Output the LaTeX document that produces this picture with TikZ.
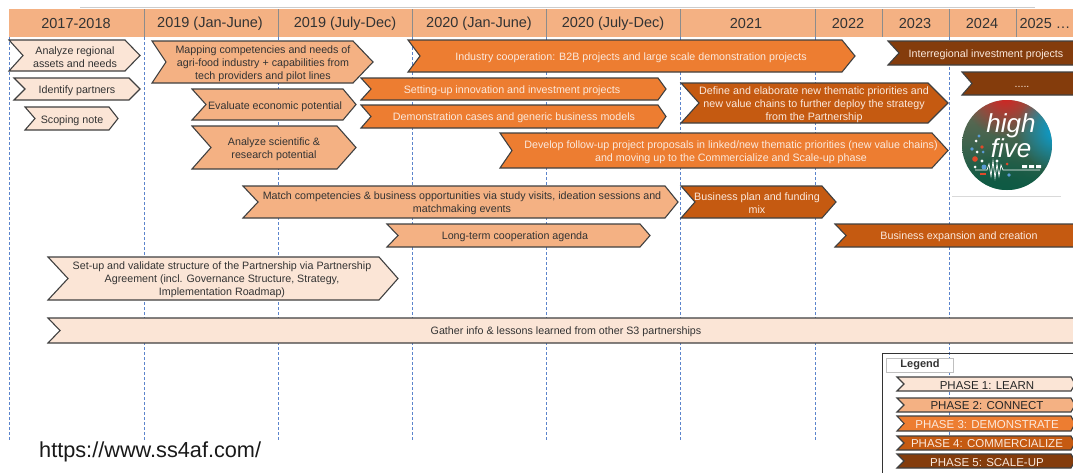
\documentclass[tikz,border=0pt]{standalone}
\usepackage{fontspec}
\setmainfont{Liberation Sans}
\usetikzlibrary{fadings}
\definecolor{ph1}{HTML}{FBE5D6}
\definecolor{ph2}{HTML}{F4B183}
\definecolor{ph3}{HTML}{ED7D31}
\definecolor{ph4}{HTML}{C55A11}
\definecolor{ph5}{HTML}{843C0C}
\definecolor{ink}{HTML}{333333}
\definecolor{lite}{HTML}{FBE9DD}
\definecolor{gridblue}{HTML}{5B84CC}
\definecolor{logotop}{HTML}{6B6B55}
\definecolor{logobot}{HTML}{0E5A44}
\definecolor{logored}{HTML}{D8201F}
\definecolor{logoblue}{HTML}{00A5E0}
\definecolor{dotblue}{HTML}{5B9BD5}
\definecolor{dotred}{HTML}{E04A2A}
\tikzfading[name=blob, inner color=transparent!0, outer color=transparent!100]
\tikzset{
  x=1pt,y=-1pt,
  hdr/.style={font=\fontsize{14.5}{16}\selectfont,text=ink,anchor=center,inner sep=0pt,yshift=-1pt},
  lbl/.style={font=\fontsize{10.7}{13}\selectfont,align=center,anchor=center,inner sep=0pt,yshift=-1.5pt},
  outl/.style={draw=black!75,line width=1.1pt,line join=miter},
  p1/.style={outl,fill=ph1},
  p2/.style={outl,fill=ph2},
  p3/.style={outl,fill=ph3},
  p4/.style={outl,fill=ph4},
  p5/.style={outl,fill=ph5},
  dark/.style={text=ink},
  light/.style={text=lite},
  gridline/.style={gridblue,line width=0.9pt,densely dashed},
  sep/.style={draw=black!45,line width=1pt},
  lg/.style={font=\fontsize{11.5}{13}\selectfont,anchor=center,inner sep=0pt,yshift=-0.8pt},
}
\newcommand{\shp}[7]{\path[#7] (#1,#2) -- (#3,#2) -- (#6,{(#2+#4)/2}) -- (#3,#4) -- (#1,#4) -- ({#1+#5},{(#2+#4)/2}) -- cycle;}
\newcommand{\txt}[5]{\node[lbl,#4] (#1) at (#2,#3) {#5};}
\begin{document}
\begin{tikzpicture}
\useasboundingbox (0,0) rectangle (1073,472);
\fill[white] (0,0) rectangle (1073,472);
\draw[black!20,line width=0.8pt] (80,7) -- (1035,7);
% header
\fill[ph2] (9,9) rectangle (1073,37);
\foreach \xx in {144,278,412,546,680,815,882,949,1016} \draw[sep] (\xx,9) -- (\xx,37);
\foreach \xx/\t/\n in {76/2017-2018/ha,210/2019 (Jan-June)/hb,345/2019 (July-Dec)/hc,479/2020 (Jan-June)/hd,613/2020 (July-Dec)/he,746/2021/hf,848/2022/hg,915/2023/hh,982/2024/hi,1045/2025 …/hj}
  \node[hdr] (\n) at (\xx,23) {\t};
% grid
\foreach \xx in {9,144,278,412,546,680,815,949} \draw[gridline] (\xx,37) -- (\xx,440);

\shp{9}{40}{125}{71}{14}{140}{p1} \txt{a1}{75}{56}{dark}{Analyze regional\\assets and needs}
\shp{14}{78}{129}{100}{11}{140}{p1} \txt{a2}{77}{89.5}{dark}{Identify partners}
\shp{25}{107}{109}{130}{10}{118}{p1} \txt{a3}{72}{119}{dark}{Scoping note}

\shp{152}{41}{353}{83}{14}{373}{p2} \txt{b1}{263}{62}{dark}{Mapping competencies and needs of\\agri-food industry + capabilities from\\tech providers and pilot lines}
\shp{192}{89}{343}{120}{14}{356}{p2} \txt{b2}{275}{105}{dark}{Evaluate economic potential}
\shp{192}{126}{337}{169}{19}{356}{p2} \txt{b3}{274}{147.5}{dark}{Analyze scientific \&\\research potential}

\shp{408}{40}{842}{72}{12}{855}{p3} \txt{c1}{631}{56}{light}{Industry cooperation: B2B projects and large scale demonstration projects}
\shp{361}{78}{658}{100}{10}{666}{p3} \txt{c2}{512}{89}{light}{Setting-up innovation and investment projects}
\shp{361}{105}{658}{128}{10}{666}{p3} \txt{c3}{514}{116.5}{light}{Demonstration cases and generic business models}
\shp{681}{83}{928}{123}{18}{948}{p4} \txt{d1}{814}{103}{light}{Define and elaborate new thematic priorities and\\new value chains to further deploy the strategy\\from the Partnership}
\shp{500}{133}{932}{168}{12}{948}{p3} \txt{c4}{731}{150.5}{light}{Develop follow-up project proposals in linked/new thematic priorities (new value chains)\\and moving up to the Commercialize and Scale-up phase}
\shp{888}{41}{1080}{65}{11}{1090}{p5} \txt{e1}{986}{53}{light}{Interregional investment projects}
\shp{962}{72}{1080}{95}{10}{1090}{p5} \txt{e2}{1022}{85}{light}{.....}

% logo
\fill[white] (952,96) rectangle (1061,196);
\draw[black!15,line width=0.6pt] (952,196) -- (1061,196);
\begin{scope}
  \clip (1007,145) circle (45);
  \shade[top color=logotop,bottom color=logobot] (962,100) rectangle (1052,190);
  \fill[logobot,path fading=blob] (1000,195) circle (48);
  \fill[logored,path fading=blob] (1005,95) circle (42);
  \fill[logoblue,path fading=blob] (1058,130) circle (42);
\end{scope}
\node[text=white,font=\itshape\fontsize{26}{24}\selectfont,align=center,inner sep=0pt] (logo) at (1011,136) {high\\five};
\foreach \a/\b/\c/\r in {979/136/dotblue/1.7,976/141/white/1.5,982/147/dotred/1.9,972/149/dotblue/1.9,977/152/white/1.5,983/152/dotblue/1.5,975/159/dotred/2.8,982/161/white/1.7,997/161/white/1.7,1007/164/dotred/1.5,984/167/dotblue/2.5,975/167/white/1.5,1009/175/dotblue/1.8}
  \fill[fill=\c] (\a,\b) circle (\r);
\fill[dotred] (980,173) rectangle (986,175);
\draw[white,line width=0.7pt] (975,170) -- (987,170) -- (989,164) -- (991,176) -- (993,161) -- (995,178) -- (997,164) -- (999,176) -- (1001,165) -- (1003,170) -- (1040,170);
\fill[white] (1022,165) rectangle (1027,168) (1029,165) rectangle (1034,168) (1036,165) rectangle (1041,168);

\shp{681}{186}{822}{218}{14}{836}{p4} \txt{d2}{757}{202}{light}{Business plan and funding\\mix}
\shp{243}{186}{665}{218}{15}{678}{p2} \txt{b4}{462}{202}{dark}{Match competencies \& business opportunities via study visits, ideation sessions and\\matchmaking events}
\shp{387}{224}{640}{247}{11}{650}{p2} \txt{b5}{515}{235.5}{dark}{Long-term cooperation agenda}
\shp{835}{224}{1080}{247}{11}{1090}{p4} \txt{d3}{959}{235.5}{light}{Business expansion and creation}
\shp{48}{257}{379}{300}{20}{398}{p1} \txt{a4}{222}{278.5}{dark}{Set-up and validate structure of the Partnership via Partnership\\Agreement (incl. Governance Structure, Strategy,\\Implementation Roadmap)}
\shp{48}{318}{1080}{343}{12}{1090}{p1} \txt{a5}{566}{330.5}{dark}{Gather info \& lessons learned from other S3 partnerships}

% legend
\draw[black!80,line width=1pt] (1074,353) -- (882,353) -- (882,473);
\node[draw=black!25,line width=0.6pt,minimum width=67pt,minimum height=14pt,inner sep=0pt,fill=white] (lgd) at (919.5,365) {};
\node[font=\bfseries\fontsize{11}{12}\selectfont,text=ink,inner sep=0pt,anchor=center] (lgdt) at (920,365) {Legend};
\shp{897}{377}{1071}{391}{7}{1075}{p1} \node[lg,text=black!85] (l1) at (987,384.5) {PHASE 1: LEARN};
\shp{897}{398}{1071}{412}{7}{1075}{p2} \node[lg,text=black!85] (l2) at (987,405) {PHASE 2: CONNECT};
\shp{897}{416}{1071}{431}{7}{1075}{p3} \node[lg,text=lite] (l3) at (987,423.5) {PHASE 3: DEMONSTRATE};
\shp{897}{436}{1071}{450}{7}{1075}{p4} \node[lg,text=lite] (l4) at (987,443) {PHASE 4: COMMERCIALIZE};
\shp{897}{454}{1071}{468}{7}{1075}{p5} \node[lg,text=lite] (l5) at (987,461.5) {PHASE 5: SCALE-UP};

\node[anchor=west,inner sep=0pt,font=\fontsize{21.7}{24}\selectfont,text=black!90] (url) at (39,452) {https://www.ss4af.com/};
\end{tikzpicture}
\end{document}
